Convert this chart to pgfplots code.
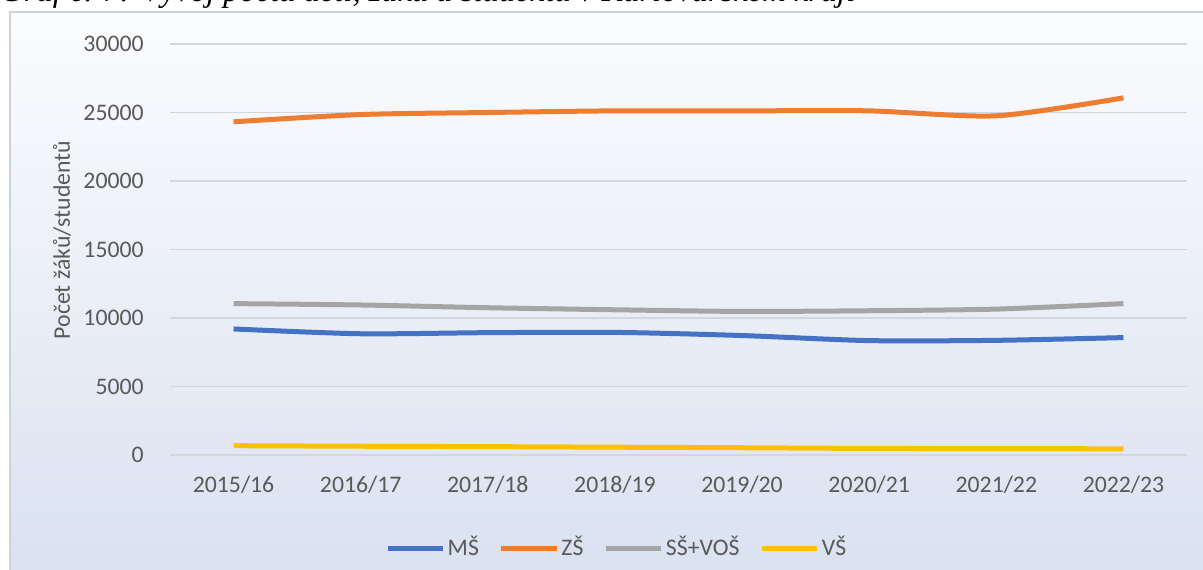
\documentclass[border=0pt]{standalone}
\usepackage{pgfplots}
\pgfplotsset{compat=1.18}
\usepackage{fontspec}
\setmainfont{Carlito}
\newfontfamily\capfont{Liberation Serif}

\definecolor{msblue}{HTML}{4472C4}
\definecolor{zsorange}{HTML}{ED7D31}
\definecolor{ssgray}{HTML}{A5A5A5}
\definecolor{vsgold}{HTML}{FFC000}
\definecolor{txtgray}{HTML}{595959}
\definecolor{gridc}{HTML}{D3D6DC}
\definecolor{bgtop}{HTML}{FBFCFE}
\definecolor{bgbot}{HTML}{DAE1F0}
\definecolor{framec}{HTML}{CDD1D8}

\pgfplotstableread{
x ms zs ss vs
0 9200 24320 11050 680
1 8850 24850 10950 640
2 8930 25000 10750 610
3 8950 25120 10600 570
4 8720 25120 10480 530
5 8350 25120 10530 480
6 8370 24760 10650 470
7 8570 26070 11050 450
}\data

\begin{document}
\begin{tikzpicture}
% 1 px = 0.4pt, picture 1203 x 569 px
\useasboundingbox (0,0) rectangle (481.2pt,227.6pt);
\clip (0,0) rectangle (481.2pt,227.6pt);
\fill[white] (0,0) rectangle (481.2pt,227.6pt);
% caption, cut at the top of the picture as in the reference
\node[anchor=base west, inner sep=0pt, font=\capfont\itshape\fontsize{13}{15}\selectfont]
  at (0pt,226.8pt) {Graf č. 7: Vývoj počtu dětí, žáků a studentů v Karlovarském kraji};
% chart area
\shade[top color=bgtop, bottom color=bgbot] (4pt,-1pt) rectangle (482pt,222.8pt);
\draw[framec, line width=0.8pt] (4pt,-1pt) rectangle (482pt,222.8pt);

\begin{axis}[
  at={(68pt,45.6pt)}, anchor=south west,
  scale only axis, width=406.8pt, height=164.4pt,
  xmin=-0.5, xmax=7.5, ymin=0, ymax=30000,
  xtick={0,...,7},
  xticklabels={2015/16,2016/17,2017/18,2018/19,2019/20,2020/21,2021/22,2022/23},
  ytick={0,5000,...,30000},
  scaled ticks=false,
  /pgf/number format/.cd, 1000 sep={}, assume math mode=true, /pgfplots/.cd,
  ymajorgrids, grid style={gridc, line width=0.5pt},
  axis line style={draw=none},
  major tick style={draw=none},
  ticklabel style={font=\fontsize{9.5}{11}\selectfont, text=txtgray},
  yticklabel style={xshift=-7pt},
  xticklabel style={yshift=-5pt},
  ylabel={Počet žáků/studentů},
  ylabel style={at={(axis description cs:-0.1062,0.523)}, anchor=center, rotate=0,
    font=\fontsize{9.5}{11}\selectfont, text=txtgray},
  legend columns=-1,
  legend style={at={(0.4395,-0.2263)}, anchor=center, draw=none, fill=none,
    font=\fontsize{9.5}{11}\selectfont, text=txtgray,
    /tikz/every even column/.append style={column sep=7pt},
    nodes={inner sep=1pt}},
  legend image code/.code={\draw[#1] plot coordinates {(0pt,0pt) (22pt,0pt)};},
  every axis plot/.append style={line width=2pt, smooth, tension=0.45, mark=none},
]
\addplot[msblue] table[x=x,y=ms] {\data};
\addplot[zsorange] table[x=x,y=zs] {\data};
\addplot[ssgray] table[x=x,y=ss] {\data};
\addplot[vsgold] table[x=x,y=vs] {\data};
\legend{MŠ,ZŠ,SŠ+VOŠ,VŠ}
\end{axis}
\end{tikzpicture}
\end{document}
